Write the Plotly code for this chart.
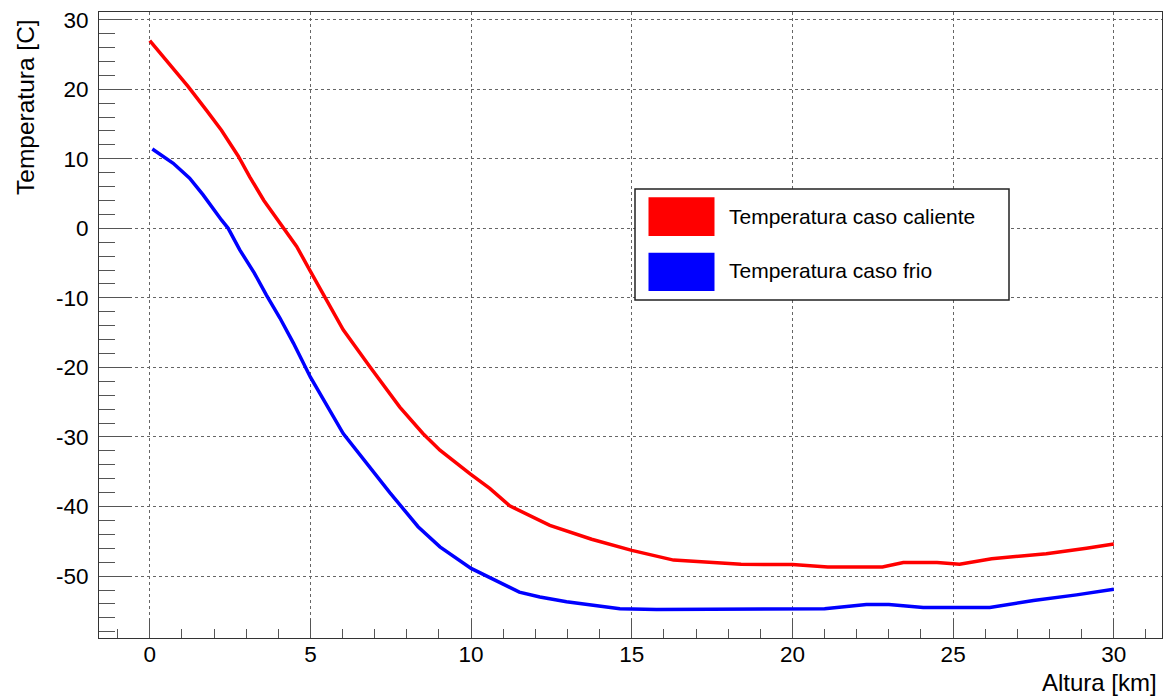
import plotly.graph_objects as go

# ---- data ----
series_names = ["Temperatura caso caliente", "Temperatura caso frio"]
series_colors = ["#ff0000", "#0000ff"]

altura_caliente = [0.0, 0.41, 1.19, 1.76, 2.23, 2.75, 3.11, 3.55, 4.15, 4.57, 5.0,
                   5.45, 6.02, 6.85, 7.78, 8.5, 9.03, 9.97, 10.58, 11.2, 12.45,
                   13.75, 15.0, 16.3, 18.4, 20.0, 21.1, 22.8, 23.45, 24.5, 25.2,
                   26.2, 27.9, 29.15, 30.0]
temp_caliente = [27.0, 24.7, 20.4, 17.0, 14.1, 10.4, 7.4, 4.0, 0.0, -2.6, -6.2,
                 -9.8, -14.6, -19.9, -25.7, -29.5, -31.9, -35.3, -37.4, -39.9, -42.7,
                 -44.7, -46.3, -47.7, -48.3, -48.35, -48.7, -48.7, -48.05, -48.05, -48.3,
                 -47.5, -46.8, -46.0, -45.4]

altura_frio = [0.08, 0.73, 1.24, 1.66, 2.23, 2.44, 2.8, 3.25, 3.63, 4.05, 4.47, 5.0,
               6.02, 6.74, 7.47, 8.35, 9.03, 10.0, 10.9, 11.5, 12.14, 12.97, 14.63,
               15.77, 21.0, 22.3, 23.0, 24.07, 26.14, 27.5, 28.84, 30.0]
temp_frio = [11.4, 9.35, 7.2, 4.8, 1.2, 0.0, -3.1, -6.4, -9.6, -12.9, -16.5, -21.4,
             -29.5, -33.8, -38.0, -42.9, -45.8, -48.9, -50.9, -52.3, -53.0, -53.7, -54.7,
             -54.8, -54.7, -54.1, -54.1, -54.5, -54.5, -53.5, -52.7, -51.9]

x_tick_vals = [0, 5, 10, 15, 20, 25, 30]
x_tick_text = ["0", "5", "10", "15", "20", "25", "30"]
y_tick_vals = [-50, -40, -30, -20, -10, 0, 10, 20, 30]
y_tick_text = ["-50", "-40", "-30", "-20", "-10", "0", "10", "20", "30"]

x_title = "Altura [km]"
y_title = "Temperatura [C]"

# ---- figure ----
W, H = 1163, 696
ML, MR, MT, MB = 99, 1, 12, 58
PW, PH = W - ML - MR, H - MT - MB

FONT = "Liberation Sans, Arial, Helvetica, sans-serif"

fig = go.Figure()
for xs, ys, name, col in [(altura_caliente, temp_caliente, series_names[0], series_colors[0]),
                          (altura_frio, temp_frio, series_names[1], series_colors[1])]:
    fig.add_trace(go.Scatter(x=xs, y=ys, mode="lines", name=name,
                             line=dict(color=col, width=3.5), showlegend=False))

axis_common = dict(
    showline=True, linecolor="#333333", linewidth=1, mirror=True,
    ticks="inside", tickcolor="#555555", tickwidth=1,
    showgrid=True, gridcolor="#666666", griddash="dot", gridwidth=1,
    zeroline=False,
    tickfont=dict(family=FONT, size=22.5, color="black"),
)

fig.update_xaxes(range=[-1.58, 31.5], tickmode="array", tickvals=x_tick_vals,
                 ticktext=x_tick_text, ticklen=19,
                 minor=dict(dtick=1, tick0=0, ticklen=9, ticks="inside",
                            tickcolor="#555555", showgrid=False),
                 ticklabelstandoff=-4, **axis_common)
fig.update_yaxes(range=[-58.9, 31.1], tickmode="array", tickvals=y_tick_vals,
                 ticktext=y_tick_text, ticklen=33,
                 minor=dict(dtick=2, tick0=0, ticklen=16, ticks="inside",
                            tickcolor="#555555", showgrid=False),
                 ticklabelstandoff=5, **axis_common)

def px_x(p):
    return (p - ML) / PW

def px_y(p):
    return (H - MB - p) / PH

shapes = []
annotations = []
# legend box
shapes.append(dict(type="rect", xref="paper", yref="paper",
                   x0=px_x(635), x1=px_x(1009), y0=px_y(300), y1=px_y(189),
                   line=dict(color="#222222", width=1.5), fillcolor="white", layer="above"))
legend_rows = [(197.3, 236.0, 216.0), (252.7, 291.0, 270.0)]
for (top, bot, mid), name, col in zip(legend_rows, series_names, series_colors):
    shapes.append(dict(type="rect", xref="paper", yref="paper",
                       x0=px_x(648.5), x1=px_x(714.5), y0=px_y(bot), y1=px_y(top),
                       line=dict(width=0), fillcolor=col, layer="above"))
    annotations.append(dict(text=name, xref="paper", yref="paper",
                            x=px_x(727), y=px_y(mid), xanchor="left", yanchor="middle",
                            showarrow=False, font=dict(family=FONT, size=21, color="black")))

# axis titles
annotations.append(dict(text=x_title, xref="paper", yref="paper", x=1, y=0,
                        xanchor="right", yanchor="top", xshift=-3, yshift=-29,
                        showarrow=False, font=dict(family=FONT, size=24, color="black")))
annotations.append(dict(text=y_title, xref="paper", yref="paper", x=0, y=1,
                        xanchor="center", yanchor="top", xshift=-74, yshift=-5,
                        textangle=-90, showarrow=False,
                        font=dict(family=FONT, size=24.5, color="black")))

fig.update_layout(
    width=W, height=H,
    margin=dict(l=ML, r=MR, t=MT, b=MB, pad=0),
    paper_bgcolor="white", plot_bgcolor="white",
    shapes=shapes, annotations=annotations,
    showlegend=False,
)

fig.write_html("out.html")
